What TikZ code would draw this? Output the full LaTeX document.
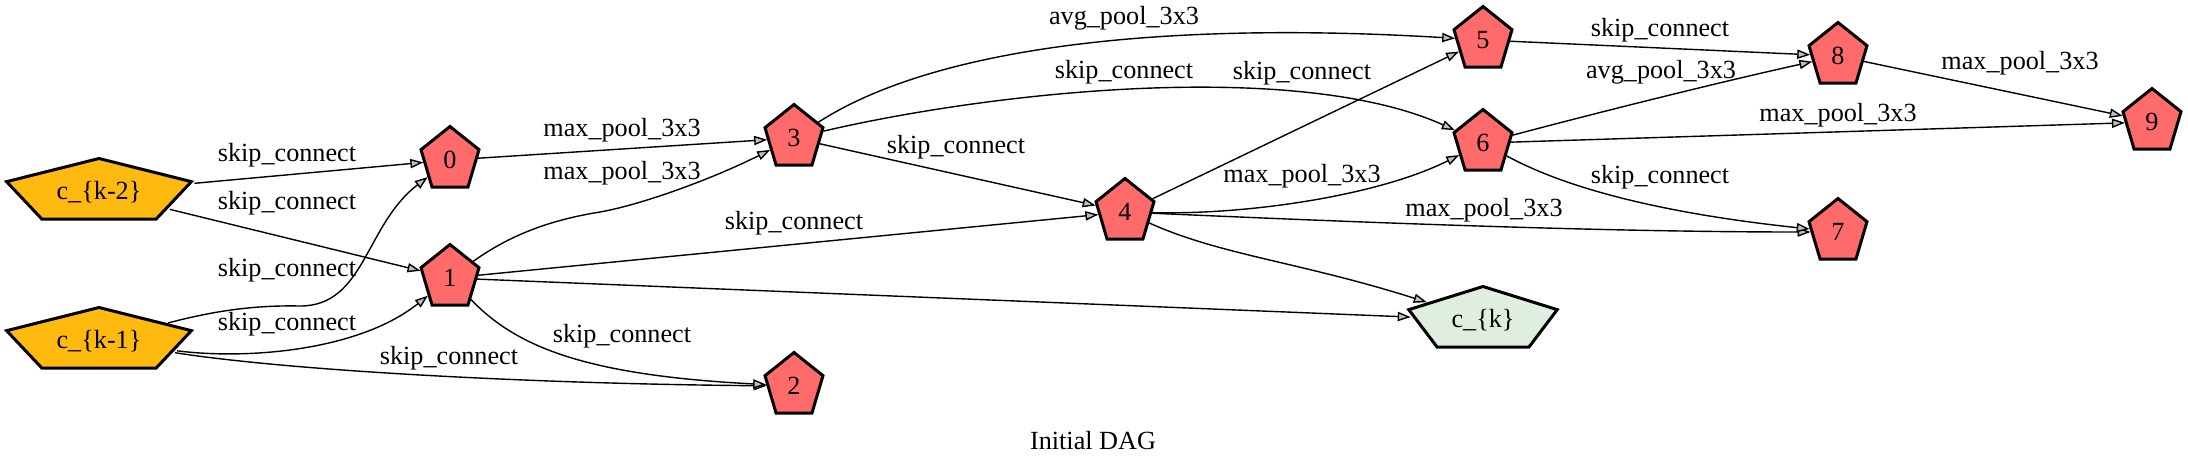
\documentclass[tikz,border=0pt]{standalone}
\usepackage{fontspec}
\setmainfont{Liberation Serif}
\usetikzlibrary{shapes.geometric,arrows.meta}
\definecolor{redfill}{RGB}{255,106,106}
\definecolor{orangefill}{RGB}{255,185,15}
\definecolor{greenfill}{RGB}{224,238,224}
\definecolor{arrowfill}{RGB}{192,192,192}
\newcommand\pentagonnode[5]{\begin{scope}[shift={(#2,#3)},xscale=#4]\node[pentshape,fill=#5,transform shape] (#1) at (0,0) {};\end{scope}}
\begin{document}
\begin{tikzpicture}[x=0.5pt,y=-0.5pt,
  pentshape/.style={regular polygon, regular polygon sides=5, minimum size=33.5pt, inner sep=0pt, draw=black, line width=1.5pt},
  txt/.style={font=\fontsize{13.1}{15}\selectfont, inner sep=0pt},
  conn/.style={draw=black, line width=0.7pt, -{Triangle[length=6.5pt,width=4.6pt,fill=arrowfill]}}
]
\useasboundingbox (0,0) rectangle (2188,467);

% nodes
\pentagonnode{ck2}{99}{192}{2.9}{orangefill}
\pentagonnode{ck1}{99}{341}{2.9}{orangefill}
\pentagonnode{n0}{450}{160}{0.91}{redfill}
\pentagonnode{n1}{450}{278}{0.91}{redfill}
\pentagonnode{n2}{794}{386}{0.91}{redfill}
\pentagonnode{n3}{794}{138}{0.91}{redfill}
\pentagonnode{n4}{1125}{212}{0.91}{redfill}
\pentagonnode{n5}{1483}{40}{0.91}{redfill}
\pentagonnode{n6}{1483}{143}{0.91}{redfill}
\pentagonnode{n7}{1838}{232}{0.91}{redfill}
\pentagonnode{n8}{1838}{56}{0.91}{redfill}
\pentagonnode{n9}{2152}{122}{0.91}{redfill}
\pentagonnode{ck}{1483}{320}{2.33}{greenfill}

\node[txt] (ck2t) at (ck2) {c\_\{k-2\}};
\node[txt] (ck1t) at (ck1) {c\_\{k-1\}};
\node[txt] (n0t) at (n0) {0};
\node[txt] (n1t) at (n1) {1};
\node[txt] (n2t) at (n2) {2};
\node[txt] (n3t) at (n3) {3};
\node[txt] (n4t) at (n4) {4};
\node[txt] (n5t) at (n5) {5};
\node[txt] (n6t) at (n6) {6};
\node[txt] (n7t) at (n7) {7};
\node[txt] (n8t) at (n8) {8};
\node[txt] (n9t) at (n9) {9};
\node[txt] (ckt) at (ck) {c\_\{k\}};

% edges
\draw[conn] (ck2) -- (n0);
\draw[conn] (ck2) -- (n1);
\draw[conn] (ck1) .. controls (210,312) and (250,305) .. (300,306) .. controls (365,306) and (365,225) .. (n0);
\draw[conn] (ck1) .. controls (250,360) and (360,350) .. (n1);
\draw[conn] (ck1) .. controls (300,372) and (550,384) .. (n2);
\draw[conn] (n0) -- (n3);
\draw[conn] (n1) .. controls (510,235) and (550,220) .. (600,212) .. controls (640,205) and (710,180) .. (n3);
\draw[conn] (n1) -- (n4);
\draw[conn] (n1) -- (ck);
\draw[conn] (n1) .. controls (515,345) and (580,375) .. (n2);
\draw[conn] (n3) -- (n4);
\draw[conn] (n3) .. controls (930,50) and (1150,20) .. (n5);
\draw[conn] (n3) .. controls (1000,90) and (1300,60) .. (n6);
\draw[conn] (n4) -- (n5);
\draw[conn] (n4) .. controls (1250,215) and (1380,195) .. (n6);
\draw[conn] (n4) .. controls (1350,222) and (1600,232) .. (n7);
\draw[conn] (n4) .. controls (1220,255) and (1300,262) .. (ck);
\draw[conn] (n5) -- (n8);
\draw[conn] (n6) .. controls (1600,112) and (1720,82) .. (n8);
\draw[conn] (n6) -- (n9);
\draw[conn] (n6) .. controls (1560,185) and (1650,212) .. (n7);
\draw[conn] (n8) -- (n9);

% edge labels
\node[txt] (l1) at (287,155) {skip\_connect};
\node[txt] (l2) at (287,203) {skip\_connect};
\node[txt] (l3) at (287,270) {skip\_connect};
\node[txt] (l4) at (287,324) {skip\_connect};
\node[txt] (l5) at (449,358) {skip\_connect};
\node[txt] (l6) at (622,130) {max\_pool\_3x3};
\node[txt] (l7) at (622,173) {max\_pool\_3x3};
\node[txt] (l8) at (622,336) {skip\_connect};
\node[txt] (l9) at (794,223) {skip\_connect};
\node[txt] (l10) at (956,147) {skip\_connect};
\node[txt] (l11) at (1124,18) {avg\_pool\_3x3};
\node[txt] (l12) at (1124,72) {skip\_connect};
\node[txt] (l13) at (1302,73) {skip\_connect};
\node[txt] (l14) at (1302,176) {max\_pool\_3x3};
\node[txt] (l15) at (1484,210) {max\_pool\_3x3};
\node[txt] (l16) at (1660,30) {skip\_connect};
\node[txt] (l17) at (1661,72) {avg\_pool\_3x3};
\node[txt] (l18) at (1838,115) {max\_pool\_3x3};
\node[txt] (l19) at (1660,177) {skip\_connect};
\node[txt] (l20) at (2020,63) {max\_pool\_3x3};

\node[txt] (title) at (1093,441) {Initial DAG};
\end{tikzpicture}
\end{document}
